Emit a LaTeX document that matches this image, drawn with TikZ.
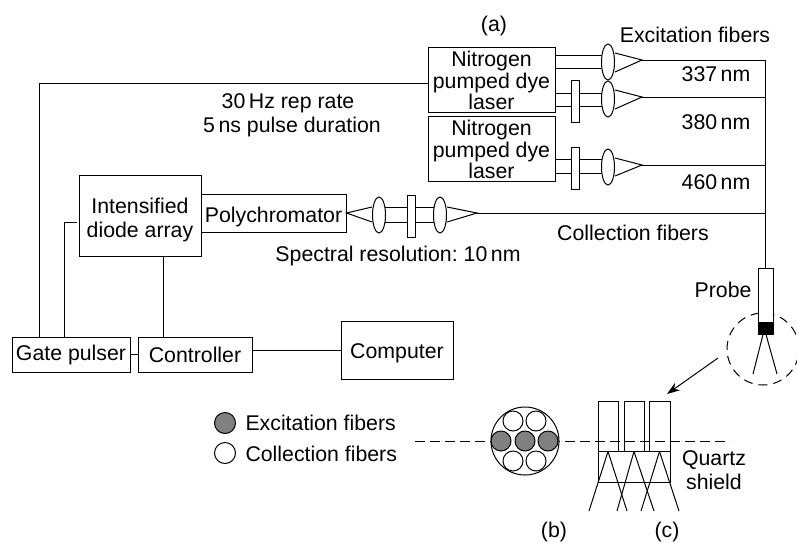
\documentclass[tikz,border=0pt]{standalone}
\usepackage{fontspec}
\setmainfont{Liberation Sans}
\usetikzlibrary{shapes.geometric,arrows.meta,backgrounds}
\frenchspacing
\begin{document}
\begin{tikzpicture}[x=1pt, y=-1pt, every path/.style={line width=1pt},
		txt/.style={inner sep=0pt, align=center, font=\fontsize{21.3}{21.5}\selectfont},
		box/.style={draw, inner sep=0pt, align=center, font=\fontsize{21.3}{21.5}\selectfont},
		lensnode/.style={draw, ellipse, fill=white, inner sep=0pt, minimum width=13pt, minimum height=36pt},
		filterbox/.style={draw, fill=white, inner sep=0pt, minimum width=8pt, minimum height=42pt},
		fibrewhite/.style={draw, circle, fill=white, inner sep=0pt, minimum size=20pt},
		fibregrey/.style={draw, circle, fill=black!50, inner sep=0pt, minimum size=20pt}]
			\useasboundingbox (0,0) rectangle (797,542);
			% lasers and excitation side
			\node[box, minimum width=127pt, minimum height=65pt] (laserA) at (491.5,79.5) {\rule{0pt}{18pt}Nitrogen\\pumped dye\\laser};
			\node[box, minimum width=127pt, minimum height=65pt] (laserB) at (491.5,148.5) {\rule{0pt}{18pt}Nitrogen\\pumped dye\\laser};
			\node[lensnode] (lensA) at (608,62) {};
			\node[lensnode] (lensB) at (608,99) {};
			\node[lensnode] (lensC) at (608,167) {};
			\node[filterbox] (filterB) at (575.5,101) {};
			\node[filterbox] (filterC) at (575.5,168.5) {};
			\coordinate (tipA) at (642,60);
			\coordinate (tipB) at (642,97);
			\coordinate (tipC) at (642,165);
			\coordinate (tipD) at (477,213);
			\coordinate (jointA) at (765,60);
			\coordinate (jointB) at (765,97);
			\coordinate (jointC) at (765,165);
			\coordinate (jointD) at (765,213);
			\begin{scope}[on background layer]
				\draw (laserA.east |- 0,55)--(lensA.center |- 0,55);
				\draw (laserA.east |- 0,68)--(lensA.center |- 0,68);
				\draw (laserA.east |- 0,93)--(lensB.center |- 0,93);
				\draw (laserA.east |- 0,106)--(lensB.center |- 0,106);
				\draw (laserB.east |- 0,159)--(lensC.center |- 0,159);
				\draw (laserB.east |- 0,173)--(lensC.center |- 0,173);
			\end{scope}
			\draw (lensA.east |- 0,53)--(tipA)--(lensA.east |- 0,72);
			\draw (lensB.east |- 0,90)--(tipB)--(lensB.east |- 0,109);
			\draw (lensC.east |- 0,158)--(tipC)--(lensC.east |- 0,176);
			\draw (tipA)--(jointA);
			\draw (tipB)--(jointB);
			\draw (tipC)--(jointC);
			% detection side
			\node[box, minimum width=122pt, minimum height=81pt] (array) at (140,215.5) {\rule{0pt}{24pt}Intensified\\[3pt]diode array};
			\node[box, minimum width=145pt, minimum height=38pt, text height=18pt, text depth=0pt] (poly) at (273.5,213) {Polychromator};
			\node[lensnode] (lensD) at (379,215) {};
			\node[lensnode] (lensE) at (440,215) {};
			\node[filterbox] (filterD) at (411,216.5) {};
			\begin{scope}[on background layer]
				\draw (lensD.center |- 0,207)--(lensE.center |- 0,207);
				\draw (lensD.center |- 0,222)--(lensE.center |- 0,222);
			\end{scope}
			\draw (lensD.west |- 0,207)--(poly.east)--(lensD.west |- 0,222);
			\draw (lensE.east |- 0,207)--(tipD)--(lensE.east |- 0,222);
			\draw (tipD)--(jointD);
			% electronics
			\node[box, minimum width=118pt, minimum height=35pt] (gate) at (71,354.5) {Gate pulser};
			\node[box, minimum width=114pt, minimum height=35pt] (control) at (195,354.5) {Controller};
			\node[box, minimum width=112pt, minimum height=58pt, text height=17pt, text depth=0pt] (computer) at (397,350) {Computer};
			\draw (gate.east)--(control.west);
			\draw (control.east |- computer.west)--(computer.west);
			\draw (array.south -| 163,0)--(control.north -| 163,0);
			\draw (gate.north -| 64,0)--(64,222)--(77,222);
			\draw (gate.north -| 39,0)--(39,83)--(laserA.west |- 0,83);
			% probe
			\node[draw, fill=white, inner sep=0pt, minimum width=15pt, minimum height=66pt] (probe) at (765.5,301) {};
			\node[draw, fill=black, inner sep=0pt, minimum width=15pt, minimum height=12pt] (tipblock) at (765.5,328) {};
			\coordinate (legA) at (753,374);
			\coordinate (legB) at (777,374);
			\draw (jointA)--(probe.north -| jointA);
			\draw (tipblock.south -| 763,0)--(legA);
			\draw (tipblock.south -| 766,0)--(legB);
			\begin{scope}[on background layer]
				\node[draw, circle, inner sep=0pt, minimum size=72pt, dash pattern=on 9pt off 6pt] (zoomcircle) at (763,349) {};
			\end{scope}
			\coordinate (arrowstart) at (718,358);
			\coordinate (arrowend) at (667,394);
			\draw[-{Stealth[length=13pt, width=9pt]}] (arrowstart)--(arrowend);
			% cross section
			\coordinate (dashA) at (415,441);
			\coordinate (dashB) at (730,441);
			\draw[dash pattern=on 10pt off 5pt] (dashA)--(dashB);
			\node[draw, circle, fill=white, inner sep=0pt, minimum size=68pt] (bundle) at (525,441) {};
			\node[fibrewhite] (fibreA) at (513,421) {};
			\node[fibrewhite] (fibreB) at (536,421) {};
			\node[fibrewhite] (fibreC) at (513,461) {};
			\node[fibrewhite] (fibreD) at (536,461) {};
			\node[fibregrey] (fibreE) at (501,441) {};
			\node[fibregrey] (fibreF) at (525,441) {};
			\node[fibregrey] (fibreG) at (548,441) {};
			% side view
			\node[draw, inner sep=0pt, minimum width=20pt, minimum height=50pt] (railA) at (608,426) {};
			\node[draw, inner sep=0pt, minimum width=20pt, minimum height=50pt] (railB) at (634,426) {};
			\node[draw, inner sep=0pt, minimum width=21pt, minimum height=50pt] (railC) at (659.5,426) {};
			\node[draw, inner sep=0pt, minimum width=72pt, minimum height=31pt] (shield) at (634,466.5) {};
			\foreach \top/\left/\right in {railA/589/627, railB/617/654, railC/641/679} {
				\draw (\top.south)--(\left,511);
				\draw (\top.south)--(\right,511);
			}
			% legend
			\node[fibregrey, minimum size=21pt] (keyA) at (225,423) {};
			\node[fibrewhite, minimum size=21pt] (keyB) at (225,453) {};
			\node[txt, anchor=west] (keyAtext) at (245,423) {Excitation fibers};
			\node[txt, anchor=west] (keyBtext) at (245,454) {Collection fibers};
			% labels
			\node[txt] (labela) at (494,26) {(a)};
			\node[txt] (labelb) at (554,532) {(b)};
			\node[txt] (labelc) at (667,532) {(c)};
			\node[txt] (excite) at (695,35) {Excitation fibers};
			\node[txt] (waveA) at (716,74) {337\,nm};
			\node[txt] (waveB) at (716,122) {380\,nm};
			\node[txt] (waveC) at (716,182) {460\,nm};
			\node[txt] (collect) at (633,233) {Collection fibers};
			\node[txt] (spectral) at (398,256) {Spectral resolution: 10\,nm};
			\node[txt] (reprate) at (288,103) {30\,Hz rep rate};
			\node[txt] (duration) at (292,127) {5\,ns pulse duration};
			\node[txt, anchor=east] (probelabel) at (752,290) {Probe};
			\node[txt] (quartz) at (714,470) {Quartz\\[2pt]shield};
		\end{tikzpicture}
\end{document}
